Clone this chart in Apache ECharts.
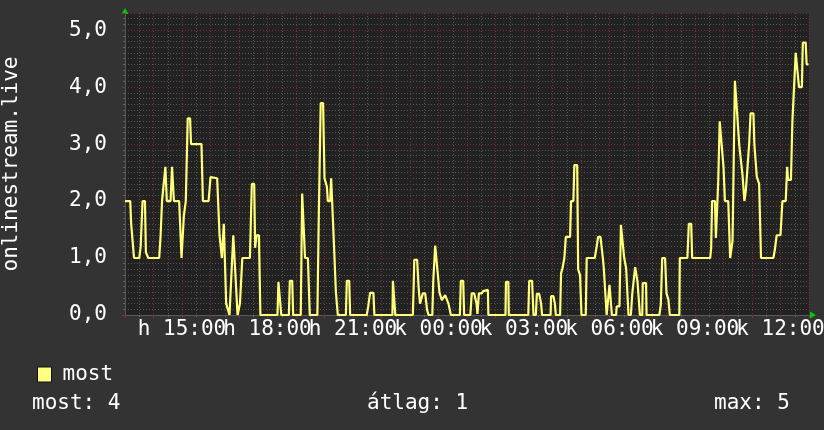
<!DOCTYPE html>
<html><head><meta charset="utf-8">
<script src="https://cdn.jsdelivr.net/npm/echarts@6/dist/echarts.min.js"></script>
<style>html,body{margin:0;padding:0;background:#333333;}#c{width:824px;height:430px;}</style>
</head><body><div id="c"></div>
<script>
// minutes since 13:00 (day "h")
const minutes = [0,11,13,16,19,30,33,37,42,44,49,72,75,78,82,85,88,96,99,103,
114,119,124,128,132,137,139,161,164,176,180,194,199,201,204,208,213,216,220,228,
232,237,242,247,263,267,272,274,277,282,285,321,323,326,329,345,347,352,354,370,
373,377,379,385,389,405,408,412,417,420,425,427,432,434,436,439,442,444,448,465,
467,472,474,509,512,516,523,525,563,564,567,569,606,608,609,615,618,621,627,632,
636,639,647,649,653,657,662,667,674,677,681,684,686,705,707,712,714,727,730,735,
740,742,745,751,754,756,764,765,801,802,807,808,849,851,857,860,865,867,872,876,
878,896,897,902,905,907,916,918,921,925,928,937,939,944,946,952,954,958,961,970,
972,989,993,996,1001,1006,1008,1014,1018,1020,1023,1025,1034,1035,1041,1044,1048,1051,1055,1057,
1060,1065,1068,1071,1074,1079,1082,1084,1089,1090,1097,1098,1125,1128,1131,1137,1140,1144,1147,1167,
1168,1184,1187,1192,1194,1232,1234,1236,1242,1244,1246,1249,1252,1256,1260,1263,1270,1274,1279,1282,
1284,1288,1293,1295,1300,1304,1307,1309,1314,1317,1323,1325,1330,1335,1339,1365,1368,1372,1380,1384,
1391,1394,1396,1402,1405,1409,1412,1416,1419,1425,1427,1433,1435,1439];
const values = [2.0,2.0,1.6,1.6,1.0,1.0,1.2,2.0,2.0,1.1,1.0,1.0,1.4,2.0,2.0,2.6,2.0,2.0,2.6,2.0,
2.0,1.0,1.75,2.0,3.45,3.45,3.0,3.0,2.0,2.0,2.42,2.4,1.4,1.4,1.0,1.6,0.2,0.2,0,1.4,
1.4,0,0.2,1.0,1.0,2.3,2.3,1.18,1.4,1.4,0,0,0.58,0.58,0,0,0.6,0.6,0,0,
2.13,2.13,1.0,1.0,0,0,1.75,3.72,3.72,2.4,2.25,2.0,2.0,2.4,2.4,1.42,1.42,0.4,0,0,
0.6,0.6,0,0,0.15,0.39,0.39,0,0,0.6,0.6,0,0,0.6,0.97,0.97,0.5,0.2,0.38,0.38,
0.09,0,0,0.6,1.22,1.22,0.4,0.26,0.35,0.35,0.2,0.17,0,0,0.6,0.6,0,0,0.38,0.38,
0.2,0.02,0.38,0.38,0.42,0.44,0.44,0,0,0.58,0.58,0,0,0.6,0.6,0,0,0.37,0.37,0.2,
0,0,0.33,0.33,0.2,0,0,0.73,0.82,1.0,1.37,1.37,2.0,2.0,2.63,2.63,0.8,0.7,0,0,
1.0,1.0,1.2,1.37,1.37,1.0,0.82,0,0,0.53,0.53,0,0,0.15,0.15,1.58,1.58,1.0,0.82,0.82,
0,0,0.38,0.38,0.84,0.58,0.56,0,0,0.56,0.56,0,0,0.18,1.0,1.0,0.38,0.27,0,0,
1.0,1.0,1.6,1.6,1.0,1.0,1.17,2.0,2.0,1.35,1.35,2.37,3.4,3.4,2.6,2.0,2.0,1.0,1.3,1.3,
4.11,3.63,3.0,3.0,2.46,2.0,2.18,2.18,3.0,3.54,3.54,3.0,2.43,2.3,1.0,1.0,1.14,1.4,1.4,2.0,
2.0,2.6,2.37,2.37,3.39,3.39,4.6,4.6,4.0,4.0,4.78,4.78,4.4,4.4];
const seriesName = 'most';
const axisTitle = 'onlinestream.live';
const dayPrefix = ['h', 'k'];
const startHour = 13;
const labelEvery = 180; // minutes

const FONT = '"DejaVu Sans Mono", monospace';
const data = minutes.map((m, i) => [m, values[i]]);

// statistics for the footer
let area = 0;
for (let i = 1; i < data.length; i++) area += (data[i][0] - data[i-1][0]) * (data[i][1] + data[i-1][1]) / 2;
const avg = area / (minutes[minutes.length-1] - minutes[0]);
const last = values[values.length-1];
const maxV = Math.max(...values);

const chart = echarts.init(document.getElementById('c'), null, {renderer: 'canvas'});
chart.setOption({
  backgroundColor: '#333333',
  animation: false,
  textStyle: {fontFamily: FONT},
  grid: {left: 125, right: 15, top: 13, bottom: 115, containLabel: false, outerBoundsMode: 'none',
         show: true, backgroundColor: '#222222', borderWidth: 0},
  xAxis: {
    type: 'value', min: 0, max: 1440, interval: 60,
    axisLine: {show: true, lineStyle: {color: '#5a5a5a', width: 1}},
    axisTick: {show: true, length: 3, lineStyle: {color: '#8a3030'}},
    minorTick: {show: true, splitNumber: 2, length: 2, lineStyle: {color: '#666'}},
    axisLabel: {
      color: '#ffffff', fontSize: 21, fontFamily: FONT, margin: 4, showMinLabel: true, showMaxLabel: true,
      hideOverlap: false,
      formatter: function (v) {
        if ((v - 120) % labelEvery !== 0 || v < 0) return '';
        const t = startHour * 60 + v;
        const d = t >= 1440 ? dayPrefix[1] : dayPrefix[0];
        const hh = Math.floor((t % 1440) / 60);
        return d + ' ' + String(hh).padStart(2, '0') + ':00';
      }
    },
    splitLine: {show: true, lineStyle: {color: '#7a2e2e', type: [1, 2], width: 1}},
    minorSplitLine: {show: true, lineStyle: {color: '#555555', type: [1, 2], width: 1}}
  },
  yAxis: {
    type: 'value', min: 0, max: 5.3, interval: 1,
    name: axisTitle, nameLocation: 'middle', nameRotate: 90, nameGap: 103,
    nameTextStyle: {color: '#ffffff', fontSize: 21, fontFamily: FONT},
    axisLine: {show: true, lineStyle: {color: '#5a5a5a', width: 1}},
    axisTick: {show: true, length: 3, lineStyle: {color: '#8a3030'}},
    minorTick: {show: true, splitNumber: 10, length: 2, lineStyle: {color: '#666'}},
    axisLabel: {
      color: '#ffffff', fontSize: 21, fontFamily: FONT, margin: 18,
      formatter: function (v) {
        if (Math.abs(v - Math.round(v)) > 1e-6) return '';
        return v.toFixed(1).replace('.', ',');
      }
    },
    splitLine: {show: true, lineStyle: {color: '#7a2e2e', type: [1, 2], width: 1}},
    minorSplitLine: {show: true, lineStyle: {color: '#555555', type: [1, 2], width: 1}}
  },
  legend: {
    left: 32, top: 359, icon: 'rect', itemWidth: 14, itemHeight: 15, itemGap: 10,
    data: [seriesName],
    itemStyle: {color: '#ffff80', borderColor: '#111', borderWidth: 1},
    textStyle: {color: '#ffffff', fontSize: 21, fontFamily: FONT, padding: [0, 0, 0, 6]}
  },
  graphic: [
    {type: 'polygon', shape: {points: [[125, 8], [121.5, 14], [128.5, 14]]}, style: {fill: '#00cc00'}, silent: true},
    {type: 'polygon', shape: {points: [[816, 315], [810, 311.5], [810, 318.5]]}, style: {fill: '#00cc00'}, silent: true},
    {type: 'text', left: 32, top: 393, style: {text: seriesName + ': ' + Math.round(last), fill: '#ffffff', font: '21px ' + FONT}},
    {type: 'text', left: 367, top: 393, style: {text: 'átlag: ' + Math.round(avg), fill: '#ffffff', font: '21px ' + FONT}},
    {type: 'text', left: 714, top: 393, style: {text: 'max: ' + Math.round(maxV), fill: '#ffffff', font: '21px ' + FONT}}
  ],
  series: [{
    name: seriesName, type: 'line', data: data, showSymbol: false, symbol: 'none',
    lineStyle: {color: '#ffff7a', width: 2.2}, itemStyle: {color: '#ffff80'}, z: 5
  }]
});
</script></body></html>
